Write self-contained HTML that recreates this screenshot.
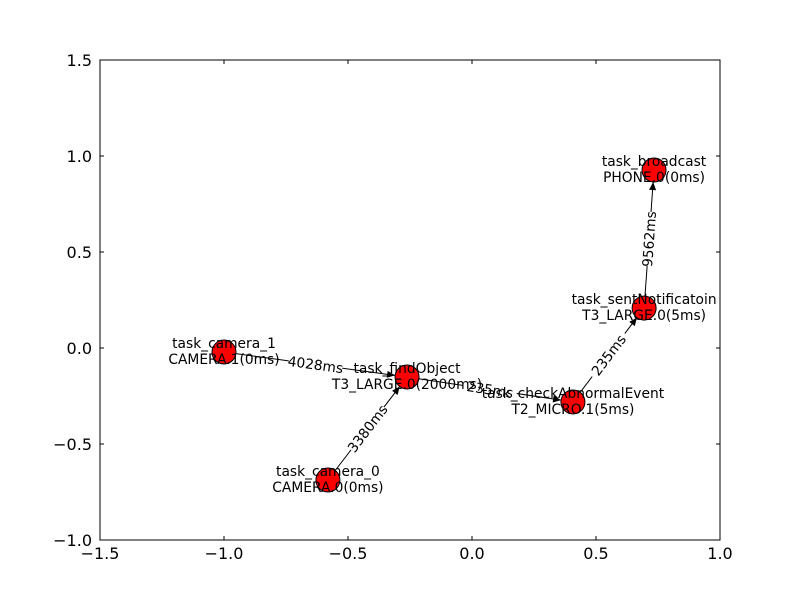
<!DOCTYPE html>
<html><head><meta charset="utf-8"><style>
html,body{margin:0;padding:0;background:#fff;}
svg{display:block;font-family:"DejaVu Sans","Liberation Sans",sans-serif;}
</style></head><body>
<svg id="chart" width="800" height="600"></svg>
<script>
const nodeNames = ["task_camera_1","task_findObject","task_camera_0","task_checkAbnormalEvent","task_sentNotificatoin","task_broadcast"];
const nodeDevices = ["CAMERA.1(0ms)","T3_LARGE.0(2000ms)","CAMERA.0(0ms)","T2_MICRO.1(5ms)","T3_LARGE.0(5ms)","PHONE.0(0ms)"];
const nodeX = [-1.0,-0.262,-0.581,0.407,0.694,0.734];
const nodeY = [-0.021,-0.151,-0.6875,-0.281,0.208,0.927];
const edgeFrom = [0,2,1,3,4];
const edgeTo = [1,1,3,4,5];
const edgeLabels = ["4028ms","3380ms","235ms","235ms","9562ms"];
const xTicks = [-1.5,-1.0,-0.5,0.0,0.5,1.0];
const yTicks = [-1.0,-0.5,0.0,0.5,1.0,1.5];

const NS="http://www.w3.org/2000/svg";
const svg=document.getElementById('chart');
const L=100,R=720,T=60,B=540;
const sx=v=>L+(v-(-1.5))/(2.5)*(R-L);
const sy=v=>B-(v-(-1.0))/(2.5)*(B-T);
function mk(tag,attrs,parent){const e=document.createElementNS(NS,tag);for(const k in attrs)e.setAttribute(k,attrs[k]);(parent||svg).appendChild(e);return e;}

const frame=mk('rect',{x:L,y:T,width:R-L,height:B-T,fill:'#fff',stroke:'#000','stroke-width':1});



xTicks.forEach(v=>{
  const x=sx(v);
  mk('line',{x1:x,y1:B,x2:x,y2:B-4,stroke:'#000'});
  mk('line',{x1:x,y1:T,x2:x,y2:T+4,stroke:'#000'});
  const t=mk('text',{x:x,y:B+19,'text-anchor':'middle','font-size':16});
  t.textContent=v.toFixed(1).replace('-','\u2212');
  
  
});
yTicks.forEach(v=>{
  const y=sy(v);
  mk('line',{x1:L,y1:y,x2:L+4,y2:y,stroke:'#000'});
  mk('line',{x1:R,y1:y,x2:R-4,y2:y,stroke:'#000'});
  const t=mk('text',{x:L-8,y:y+6,'text-anchor':'end','font-size':16});
  t.textContent=v.toFixed(1).replace('-','\u2212');
  
  
});

const rad=12;
edgeFrom.forEach((f,i)=>{
  const t=edgeTo[i];
  const x1=sx(nodeX[f]),y1=sy(nodeY[f]),x2=sx(nodeX[t]),y2=sy(nodeY[t]);
  const dx=x2-x1,dy=y2-y1,len=Math.hypot(dx,dy),ux=dx/len,uy=dy/len;
  const tx=x2-ux*rad,ty=y2-uy*rad;
  const g=mk('g',{});
  
  
  mk('line',{x1:x1,y1:y1,x2:tx,y2:ty,stroke:'#000','stroke-width':1},g);
  const ah=8,aw=3.5;
  const bx=tx-ux*ah,by=ty-uy*ah;
  mk('polygon',{points:`${tx},${ty} ${bx-uy*aw},${by+ux*aw} ${bx+uy*aw},${by-ux*aw}`,fill:'#000'},g);
});

edgeFrom.forEach((f,i)=>{
  const t=edgeTo[i];
  const x1=sx(nodeX[f]),y1=sy(nodeY[f]),x2=sx(nodeX[t]),y2=sy(nodeY[t]);
  const mx=(x1+x2)/2,my=(y1+y2)/2;
  let ang=Math.atan2(y2-y1,x2-x1)*180/Math.PI;
  if(ang>90)ang-=180; if(ang<-90)ang+=180;
  const g=mk('g',{transform:`translate(${mx},${my}) rotate(${ang})`});
  
  
  mk('rect',{x:-27,y:-8,width:54,height:16,fill:'#fff'},g);
  const tx=mk('text',{x:0,y:5,'text-anchor':'middle','font-size':13.8},g);
  tx.textContent=edgeLabels[i];
});

nodeNames.forEach((n,i)=>{
  const c=mk('circle',{cx:sx(nodeX[i]),cy:sy(nodeY[i]),r:rad,fill:'#ff0000',stroke:'#000','stroke-width':1});
  
  
});
nodeNames.forEach((n,i)=>{
  const t=mk('text',{x:sx(nodeX[i]),y:sy(nodeY[i])-4,'text-anchor':'middle','font-size':13.8});
  
  
  const a=mk('tspan',{x:sx(nodeX[i]),dy:0},t);a.textContent=n;
  const b=mk('tspan',{x:sx(nodeX[i]),dy:16},t);b.textContent=nodeDevices[i];
});
</script>
</body></html>
